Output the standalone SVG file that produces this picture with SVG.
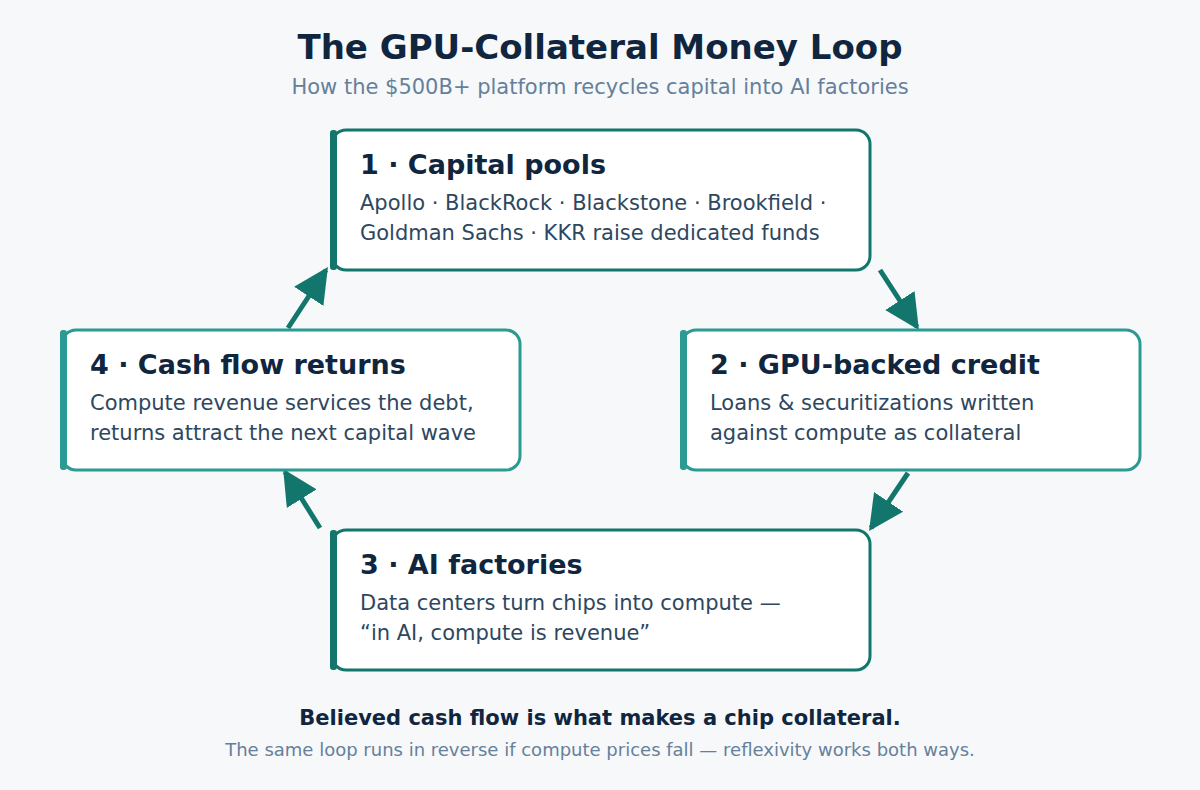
<svg xmlns="http://www.w3.org/2000/svg" width="1200" height="790" viewBox="0 0 1200 790">
<style>
.bg{fill:#f6f8fa}
.title{font-family:"DejaVu Sans",sans-serif;font-weight:bold;font-size:34px;fill:#10263f;text-anchor:middle}
.sub{font-family:"DejaVu Sans",sans-serif;font-size:21px;fill:#66809a;text-anchor:middle}
.box{fill:#ffffff;stroke-width:3}
.dark{stroke:#13766c}
.light{stroke:#2a9a92}
.bar-dark{fill:#13766c}
.bar-light{fill:#2a9a92}
.h{font-family:"DejaVu Sans",sans-serif;font-weight:bold;font-size:27px;fill:#10263f}
.b{font-family:"DejaVu Sans",sans-serif;font-size:21px;fill:#2e4760}
.arrow{stroke:#13766c;stroke-width:5;fill:none}
.foot1{font-family:"DejaVu Sans",sans-serif;font-weight:bold;font-size:21px;fill:#10263f;text-anchor:middle}
.foot2{font-family:"DejaVu Sans",sans-serif;font-size:18px;fill:#66809a;text-anchor:middle}
</style>
<defs>
<marker id="ah" viewBox="0 0 10 10" refX="9" refY="5" markerWidth="7" markerHeight="7" markerUnits="strokeWidth" orient="auto">
<path d="M0,0 L10,5 L0,10 z" fill="#13766c"/>
</marker>
</defs>
<rect class="bg" x="0" y="0" width="1200" height="790"/>
<text class="title" x="600" y="59">The GPU-Collateral Money Loop</text>
<text class="sub" x="600" y="94">How the $500B+ platform recycles capital into AI factories</text>

<g id="connectors">
<line class="arrow" x1="880" y1="270" x2="917" y2="327" marker-end="url(#ah)"/>
<line class="arrow" x1="908" y1="473" x2="871" y2="528" marker-end="url(#ah)"/>
<line class="arrow" x1="320" y1="528" x2="285" y2="472" marker-end="url(#ah)"/>
<line class="arrow" x1="288" y1="328" x2="326" y2="270" marker-end="url(#ah)"/>
</g>

<g id="node1">
<rect class="box dark" x="332" y="130" width="538" height="140" rx="14"/>
<rect class="bar-dark" x="330" y="130" width="7" height="140" rx="3"/>
<text class="h" x="360" y="174">1 · Capital pools</text>
<text class="b" x="360" y="210">Apollo · BlackRock · Blackstone · Brookfield ·</text>
<text class="b" x="360" y="240">Goldman Sachs · KKR raise dedicated funds</text>
</g>

<g id="node2">
<rect class="box light" x="682" y="330" width="458" height="140" rx="14"/>
<rect class="bar-light" x="680" y="330" width="7" height="140" rx="3"/>
<text class="h" x="710" y="374">2 · GPU-backed credit</text>
<text class="b" x="710" y="410">Loans &amp; securitizations written</text>
<text class="b" x="710" y="440">against compute as collateral</text>
</g>

<g id="node3">
<rect class="box dark" x="332" y="530" width="538" height="140" rx="14"/>
<rect class="bar-dark" x="330" y="530" width="7" height="140" rx="3"/>
<text class="h" x="360" y="574">3 · AI factories</text>
<text class="b" x="360" y="610">Data centers turn chips into compute —</text>
<text class="b" x="360" y="640">“in AI, compute is revenue”</text>
</g>

<g id="node4">
<rect class="box light" x="62" y="330" width="458" height="140" rx="14"/>
<rect class="bar-light" x="60" y="330" width="7" height="140" rx="3"/>
<text class="h" x="90" y="374">4 · Cash flow returns</text>
<text class="b" x="90" y="410">Compute revenue services the debt,</text>
<text class="b" x="90" y="440">returns attract the next capital wave</text>
</g>

<text class="foot1" x="600" y="725">Believed cash flow is what makes a chip collateral.</text>
<text class="foot2" x="600" y="756">The same loop runs in reverse if compute prices fall — reflexivity works both ways.</text>
</svg>
